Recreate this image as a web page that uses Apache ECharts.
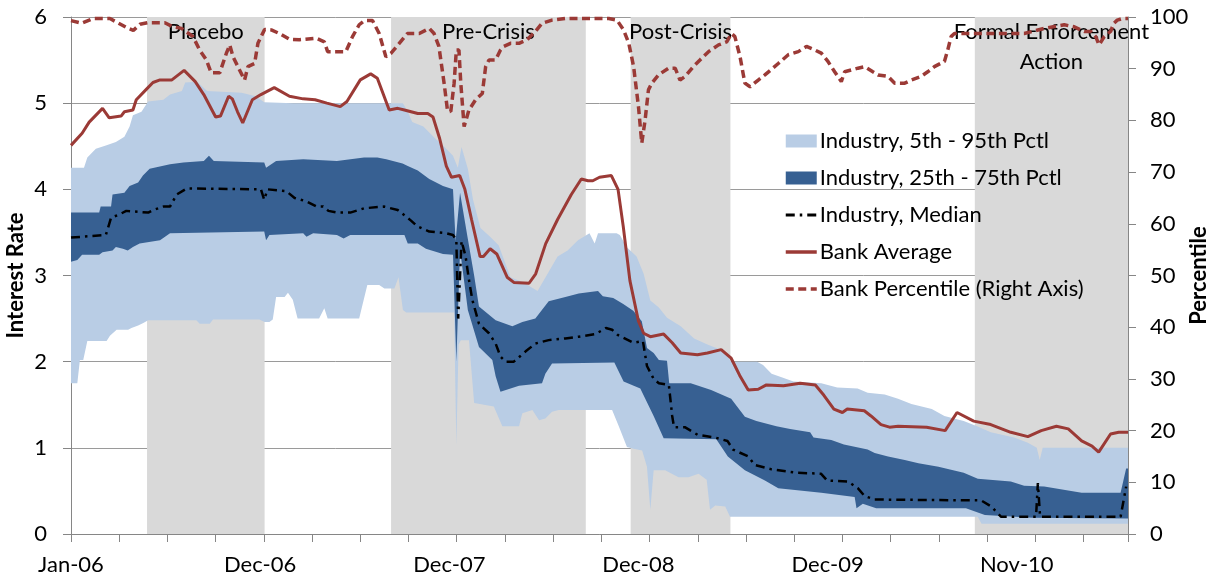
<!DOCTYPE html>
<html>
<head>
<meta charset="utf-8">
<title>Bank rate vs industry</title>
<script src="https://cdn.jsdelivr.net/npm/echarts@6/dist/echarts.min.js"></script>
<style>
  html, body { margin: 0; padding: 0; background: #fff; }
  #chart { width: 1218px; height: 581px; }
</style>
</head>
<body>
<div id="chart"></div>
<script>
// x = week number since the first week of Jan-06
const labelWeeks = [0, 51, 102, 153, 204, 255]
const labelText = ['Jan-06', 'Dec-06', 'Dec-07', 'Dec-08', 'Dec-09', 'Nov-10']

// shaded event windows
const eventNames = ['Placebo', 'Pre-Crisis', 'Post-Crisis', 'Formal Enforcement\nAction']
const eventStart = [20.5, 86.3, 150.9, 243.7]
const eventEnd = [52.2, 138.8, 177.8, 285]

// industry 95th / 5th percentile (light band)
const p95 = [[0,4.25],[3.5,4.25],[4.4,4.37],[6.7,4.47],[9.4,4.51],[12.1,4.55],[14.4,4.61],[15.8,4.73],[16.7,4.86],[19,4.9],[20.8,5.02],[24.9,5.04],[26.7,5.1],[29.9,5.14],[30.8,5.24],[34,5.25],[36.7,5.14],[46,5.12],[49.8,5.08],[52.1,5.01],[60,5],[89.5,5],[90.8,4.9],[92,4.78],[95,4.73],[98,4.6],[100.3,4.51],[103,4.39],[104.3,4.25],[105.3,4.49],[107,4.24],[108.4,3.88],[110.4,3.55],[113,3.45],[115.3,3.35],[118.5,2.98],[122,2.92],[125.8,2.82],[128.5,3.02],[131.2,3.22],[133.9,3.29],[136.7,3.41],[139.8,3.49],[141.2,3.37],[142.1,3.49],[147.1,3.49],[148,3.47],[149.8,3.33],[152.5,3.22],[154.4,3.02],[156.2,2.71],[158.5,2.63],[160.7,2.51],[164.4,2.41],[168,2.27],[171.6,2.2],[176.2,2.12],[178,2],[185,2],[186.6,1.96],[188.9,1.86],[191.6,1.82],[194.8,1.77],[202.3,1.75],[206.6,1.7],[212.1,1.69],[214.8,1.64],[219.4,1.62],[223,1.57],[226.6,1.51],[232.1,1.45],[235.5,1.37],[240.7,1.31],[244.3,1.25],[248,1.18],[254.3,1.12],[258,1.06],[260.4,1],[261.2,0.86],[262,1],[285,1]]
const p5 = [[0,1.75],[1.7,1.75],[2.4,2.02],[3.3,2.02],[4.4,2.24],[9.6,2.24],[10.5,2.3],[12.3,2.37],[15.4,2.37],[16.3,2.39],[18.1,2.42],[19.5,2.45],[20.8,2.48],[33.8,2.48],[34.7,2.44],[37.4,2.44],[38.3,2.49],[50.8,2.49],[52.2,2.46],[53.5,2.46],[54.4,2.49],[55.3,2.75],[57.6,2.75],[58.5,2.8],[59.8,2.72],[61.1,2.5],[66.9,2.5],[68.3,2.62],[69.2,2.5],[77.7,2.5],[78.6,2.66],[79.9,2.89],[83.1,2.89],[84.5,2.85],[87.2,2.85],[88.3,2.98],[89.5,2.6],[90.4,2.57],[103.3,2.57],[103.9,1.03],[104.5,2.2],[105.1,2.25],[107.3,2.25],[108.7,1.52],[114,1.48],[116.3,1.25],[120.8,1.25],[121.7,1.4],[124.4,1.44],[126.2,1.32],[127.9,1.34],[129.7,1.42],[131.5,1.44],[145.9,1.44],[147.7,1.25],[149.9,1.01],[151.7,0.99],[154,0.97],[155.3,0.78],[156.2,0.28],[157.1,0.74],[160.2,0.74],[163.8,0.66],[166.5,0.66],[169.2,0.7],[171.4,0.63],[172.3,0.28],[173.7,0.33],[176.4,0.32],[177.7,0.2],[244.5,0.2],[245.5,0.12],[285,0.12]]

// industry 75th / 25th percentile (dark band)
const p75 = [[0,3.73],[7.6,3.73],[8,3.8],[10.8,3.8],[11.2,3.94],[14.4,3.96],[15.8,4.04],[18.1,4.08],[19.4,4.16],[21.2,4.24],[26.7,4.29],[30.3,4.31],[35.8,4.33],[37.2,4.39],[38.5,4.33],[52.1,4.31],[52.6,4.25],[55.3,4.33],[62.6,4.35],[71.7,4.33],[79,4.37],[82.6,4.37],[85,4.35],[89.4,4.3],[90.8,4.27],[93.5,4.22],[96.6,4.12],[100.3,4.04],[103,4],[103.7,3.4],[104.9,3.96],[106.9,3.45],[108.7,3],[110,2.64],[114.5,2.48],[119,2.41],[121.7,2.46],[125.2,2.5],[128.8,2.7],[133.3,2.75],[136.9,2.79],[140.5,2.81],[142.1,2.82],[143.4,2.76],[146.2,2.74],[148.9,2.67],[151.6,2.59],[153.9,2.47],[155.3,2.16],[157.1,2.1],[158.5,2.02],[160.7,2.01],[161.3,1.75],[167.1,1.75],[172.6,1.67],[178,1.57],[181.7,1.36],[184.8,1.31],[190.2,1.25],[193.9,1.22],[199.3,1.18],[200.2,1.12],[205,1.09],[208.4,1.04],[214.8,0.98],[216.7,0.94],[220.3,0.9],[224.8,0.86],[228.5,0.82],[233.9,0.78],[237,0.75],[240.7,0.71],[244.5,0.64],[253.4,0.61],[257,0.56],[262.4,0.55],[272.5,0.48],[283,0.48],[284.5,0.76],[285,0.76]]
const p25 = [[0,3.16],[1.7,3.18],[3,3.24],[7.6,3.24],[8.5,3.27],[11.2,3.29],[12.1,3.33],[14,3.31],[15.3,3.29],[16.7,3.33],[18.5,3.37],[24,3.41],[26.7,3.49],[52.1,3.51],[52.6,3.41],[53.5,3.47],[62.6,3.49],[63.5,3.45],[65.3,3.49],[71.7,3.47],[73.5,3.43],[75.3,3.47],[89.9,3.47],[90.8,3.37],[93.5,3.37],[95.7,3.31],[100.3,3.25],[103,3.24],[103.9,2],[104.9,3.3],[107,2.6],[110,2.17],[113.6,2.02],[114.5,1.83],[115.8,1.65],[120.8,1.72],[127,1.75],[127.9,1.86],[129.7,1.98],[146.5,1.99],[149,1.77],[153.5,1.69],[157.1,1.37],[159.8,1.11],[174,1.1],[177.1,0.9],[181.7,0.74],[187.1,0.62],[190.7,0.53],[202.3,0.48],[211.3,0.43],[211.8,0.3],[213.5,0.35],[217.1,0.3],[241.3,0.3],[246.4,0.22],[259.2,0.19],[285,0.18]]

const median = [[0,3.44],[9.4,3.47],[10.8,3.67],[13.1,3.71],[14.9,3.75],[20.8,3.73],[22.2,3.76],[24.9,3.8],[26.7,3.8],[28.5,3.94],[31.2,4.01],[51.2,4],[52.1,3.88],[53,4],[58,3.98],[60.3,3.9],[63.5,3.86],[66.2,3.8],[68,3.8],[69.4,3.75],[71.7,3.73],[75.3,3.73],[79,3.78],[84.4,3.8],[88.1,3.76],[89.9,3.7],[91.6,3.64],[93.4,3.57],[96.6,3.51],[101.2,3.49],[103,3.47],[103.9,3.41],[104.4,2.5],[105.3,3.4],[106.4,3.22],[107.3,2.95],[108.2,2.72],[110,2.44],[112.7,2.33],[114.5,2.21],[115.8,2.06],[117.2,2],[119.4,2],[122.6,2.12],[125.2,2.21],[128.8,2.25],[133.3,2.27],[136.9,2.29],[141.4,2.32],[144.2,2.39],[145.9,2.37],[147.4,2.31],[151.6,2.22],[154.2,2.24],[155.3,1.95],[157.1,1.8],[158.5,1.75],[161.2,1.73],[162.1,1.37],[162.6,1.24],[165.5,1.24],[169,1.15],[173.6,1.12],[177,1.08],[178.5,0.98],[182.6,0.9],[184.4,0.8],[188.9,0.75],[195.7,0.71],[202.2,0.7],[203.9,0.62],[209.5,0.61],[212.2,0.53],[214,0.44],[216.7,0.4],[245.4,0.39],[248.1,0.32],[250.8,0.2],[260.2,0.2],[260.7,0.59],[261.3,0.2],[283,0.2],[284.5,0.55]]

const bankAvg = [[0,4.51],[3,4.65],[4.9,4.78],[8.5,4.94],[10.3,4.83],[13.5,4.85],[14.4,4.9],[16.7,4.92],[17.6,5.04],[20.3,5.16],[22.1,5.24],[24,5.27],[27.2,5.27],[30.5,5.38],[33.5,5.25],[35.8,5.1],[39,4.84],[40.3,4.85],[42.5,5.08],[43.5,5.05],[44.9,4.9],[46.3,4.77],[48.9,5.04],[51.2,5.1],[54.8,5.18],[58.9,5.08],[62.6,5.05],[65.8,5.04],[69,5],[72.6,4.96],[74.4,5.02],[78,5.27],[80.8,5.34],[82.6,5.29],[85.8,4.92],[88.1,4.94],[89.9,4.92],[93.5,4.88],[96.2,4.88],[97.6,4.84],[99.4,4.59],[101.2,4.27],[102.6,4.14],[104.8,4.16],[106.2,4],[108,3.65],[110.3,3.22],[111.2,3.22],[113,3.31],[114.8,3.25],[117.6,2.98],[119.4,2.92],[123.5,2.91],[125.3,3.02],[128,3.37],[131.2,3.65],[134.9,3.94],[137.6,4.12],[139.4,4.1],[140.7,4.1],[142.5,4.14],[145.7,4.16],[147.5,4],[148.9,3.57],[150.7,2.94],[153,2.47],[154.4,2.33],[156.2,2.29],[159.8,2.32],[162.1,2.22],[164.4,2.1],[168.9,2.08],[171.6,2.1],[175.3,2.14],[178,2.04],[180.3,1.84],[182.6,1.67],[185.3,1.68],[187.5,1.73],[192.1,1.72],[196.6,1.75],[200.7,1.73],[203,1.61],[205.7,1.45],[208,1.41],[209.3,1.45],[213.9,1.43],[215.7,1.37],[218.4,1.27],[220.7,1.24],[223,1.25],[230.7,1.24],[235.7,1.2],[238.9,1.41],[243.4,1.31],[248,1.27],[253.4,1.18],[258,1.13],[261.6,1.2],[265.7,1.25],[268.9,1.22],[272.5,1.08],[275.3,1.02],[277.1,0.95],[280.3,1.16],[282.5,1.18],[285,1.18]]

// bank percentile, right axis
const bankPct = [[0,99.3],[2.9,98.8],[6,99.7],[10.5,99.7],[15.4,97.8],[16.8,97.4],[18.6,98.6],[20.8,98.9],[25.3,98.9],[27.5,98.1],[29.8,97.8],[32.9,96.2],[34.7,93.6],[36.5,91.7],[37.8,89.2],[40.1,89.2],[41.9,93],[42.8,94.6],[43.7,92.3],[45,90.4],[46.8,87.8],[47.7,90.4],[49.5,91],[50.4,94.9],[52.2,97.6],[54,97.5],[56.2,96.8],[58.9,95.7],[61.6,95.6],[66.1,95.9],[68.3,95.2],[69.2,93.3],[74.1,93.3],[75.9,96.2],[77.7,98.5],[79.1,99.3],[81.3,99.3],[83.1,96.8],[84.9,92.3],[86.3,93],[88.5,94.9],[90.7,96.8],[93.9,96.8],[96.6,97.8],[97.9,96.8],[99.2,94.3],[100.6,87.2],[101.5,82],[102.4,81.7],[103.3,87.2],[103.9,93.6],[104.6,93.6],[105.1,87.2],[106,78.8],[107.3,82],[109.1,84],[110.9,85.2],[111.8,90.4],[112.7,91.7],[114.5,91.7],[115.8,93.6],[116.7,94.3],[118.5,94.9],[120.8,94.9],[123,95.6],[125.2,97.2],[127,98.8],[129.7,99.4],[133.3,99.7],[145,99.7],[147.2,99.4],[149,97.5],[150.4,94.9],[151.7,90.4],[153,82.7],[153.9,75.6],[154.8,80.1],[155.7,85.9],[156.6,87.2],[158.4,88.8],[161.1,90.1],[162.9,90.1],[164.2,87.8],[165.6,88.5],[167.8,90.4],[169.6,91.7],[171.9,93.3],[174.6,94.6],[176.8,95.2],[178.1,96.8],[179,96.2],[180.4,92.3],[181.7,87.2],[183.1,86.5],[185.3,87.8],[187.1,88.8],[190.7,91],[193.4,92.7],[196.1,93.3],[198.3,94.3],[200.6,93.6],[202.3,93],[204.1,91.4],[205.9,89.4],[207.7,87.5],[208.6,89.4],[212.2,90.1],[214,90.4],[216.2,89.4],[217.6,88.8],[220.3,88.5],[222.1,87.2],[224.8,87.2],[226.6,87.8],[229.2,88.5],[231,89.4],[232.8,90.4],[235.5,91.4],[236.4,93.6],[237.3,96.2],[238.2,96.8],[257,96.8],[262.4,97.8],[267.8,98.5],[270.5,98.1],[273.2,97.2],[275,97.2],[276.3,96.2],[277.2,94.6],[278.6,96.2],[280.3,97.2],[281.2,98.8],[282.1,99.4],[283.5,99.7],[285,99.7]]

const seriesNames = ['Industry, 5th - 95th Pctl', 'Industry, 25th - 75th Pctl', 'Industry, Median', 'Bank Average', 'Bank Percentile (Right Axis)']

const FONT = 'Lato'
const AXIS_GRAY = '#868686'
const RED = '#9B3A36'
const chart = echarts.init(document.getElementById('chart'), null, { renderer: 'canvas' })

// polygon between an upper and a lower curve, placed through the axes
function bandRenderer(upper, lower, color) {
  return function (params, api) {
    const pts = upper.map(p => api.coord(p)).concat(lower.slice().reverse().map(p => api.coord(p)))
    return { type: 'polygon', shape: { points: pts }, style: { fill: color } }
  }
}

const noSymbol = { opacity: 0 } // hide the dot that line legends draw

const option = {
  animation: false,
  textStyle: { fontFamily: FONT, color: '#000' },
  grid: { left: 71, right: 90, top: 17, bottom: 47, outerBoundsMode: 'none' },
  legend: {
    left: 784,
    top: 130,
    orient: 'vertical',
    padding: 0,
    itemWidth: 31,
    itemHeight: 13,
    itemGap: 15,
    textStyle: { fontFamily: FONT, fontSize: 22, color: '#000', padding: [0, 0, 0, -2] },
    data: [
      { name: seriesNames[0], icon: 'rect' },
      { name: seriesNames[1], icon: 'rect' },
      { name: seriesNames[2], itemStyle: noSymbol, lineStyle: { width: 3 } },
      { name: seriesNames[3], itemStyle: noSymbol, lineStyle: { width: 3.5 } },
      { name: seriesNames[4], itemStyle: noSymbol, lineStyle: { width: 3.5 } }
    ]
  },
  xAxis: {
    type: 'value',
    min: 0,
    max: 285,
    interval: 13,
    axisLine: { show: true, lineStyle: { color: AXIS_GRAY } },
    axisTick: { show: true, length: 8, lineStyle: { color: AXIS_GRAY } },
    axisLabel: {
      customValues: labelWeeks,
      formatter: v => labelText[labelWeeks.indexOf(v)] || '',
      fontFamily: FONT,
      fontSize: 22,
      color: '#000',
      margin: 20
    },
    splitLine: { show: false }
  },
  yAxis: [
    {
      type: 'value',
      min: 0,
      max: 6,
      interval: 1,
      name: 'Interest Rate',
      nameLocation: 'middle',
      nameRotate: 90,
      nameGap: 44,
      nameMoveOverlap: false,
      nameTextStyle: { fontFamily: FONT, fontSize: 22, fontWeight: 'bold', color: '#000' },
      axisLine: { show: true, lineStyle: { color: AXIS_GRAY } },
      axisTick: { show: true, length: 8, lineStyle: { color: AXIS_GRAY } },
      axisLabel: { fontFamily: FONT, fontSize: 22, color: '#000', margin: 24 },
      splitLine: { show: true, lineStyle: { color: '#9a9a9a', width: 1 } }
    },
    {
      type: 'value',
      min: 0,
      max: 100,
      interval: 10,
      position: 'right',
      name: 'Percentile',
      nameLocation: 'middle',
      nameRotate: 90,
      nameGap: 60,
      nameMoveOverlap: false,
      nameTextStyle: { fontFamily: FONT, fontSize: 22, fontWeight: 'bold', color: '#000' },
      axisLine: { show: true, lineStyle: { color: AXIS_GRAY } },
      axisTick: { show: true, length: 8, lineStyle: { color: AXIS_GRAY } },
      axisLabel: { fontFamily: FONT, fontSize: 22, color: '#000', margin: 22 },
      splitLine: { show: false }
    }
  ],
  series: [
    {
      // gray event windows with their titles
      type: 'custom',
      name: 'events',
      z: 1,
      silent: true,
      encode: { x: [0, 1] },
      data: eventStart.map((s, i) => [s, eventEnd[i]]),
      renderItem(params, api) {
        const a = api.coord([api.value(0), 6])
        const b = api.coord([api.value(1), 0])
        return {
          type: 'group',
          children: [
            { type: 'rect', shape: { x: a[0], y: a[1], width: b[0] - a[0], height: b[1] - a[1] }, style: { fill: '#D9D9D9' } },
            {
              type: 'text',
              x: (a[0] + b[0]) / 2,
              y: a[1],
              style: {
                text: eventNames[params.dataIndex],
                fontFamily: FONT,
                fontSize: 22,
                lineHeight: 30,
                fill: '#000',
                align: 'center',
                verticalAlign: 'top'
              }
            }
          ]
        }
      }
    },
    {
      type: 'custom',
      name: seriesNames[0],
      z: 2,
      silent: true,
      itemStyle: { color: '#B9CDE5' },
      data: [[0, 0]],
      renderItem: bandRenderer(p95, p5, '#B9CDE5')
    },
    {
      type: 'custom',
      name: seriesNames[1],
      z: 3,
      silent: true,
      itemStyle: { color: '#376092' },
      data: [[0, 0]],
      renderItem: bandRenderer(p75, p25, '#376092')
    },
    {
      type: 'line',
      name: seriesNames[2],
      z: 4,
      data: median,
      symbol: 'none',
      itemStyle: { color: '#000' },
      lineStyle: { color: '#000', width: 2.5, type: [9, 5, 2.5, 5] }
    },
    {
      type: 'line',
      name: seriesNames[3],
      z: 5,
      data: bankAvg,
      symbol: 'none',
      itemStyle: { color: RED },
      lineStyle: { color: RED, width: 3 }
    },
    {
      type: 'line',
      name: seriesNames[4],
      yAxisIndex: 1,
      z: 6,
      data: bankPct,
      symbol: 'none',
      itemStyle: { color: RED },
      lineStyle: { color: RED, width: 3.5, type: [8, 4.5] }
    }
  ]
}

chart.setOption(option)
</script>
</body>
</html>
